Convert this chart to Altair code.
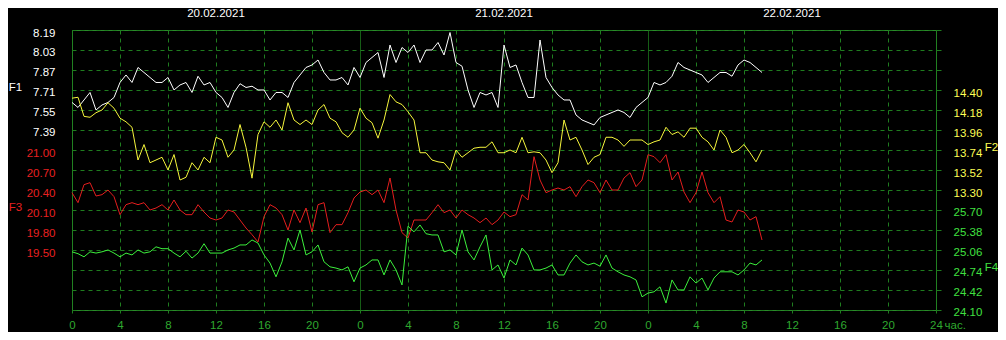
import altair as alt
import pandas as pd

# ---- data (one value every half hour from 20.02.2021 00:00) ----
step_hours = 0.5

f1 = [7.61, 7.57, 7.63, 7.69, 7.55, 7.59, 7.61, 7.65,
      7.77, 7.83, 7.77, 7.89, 7.85, 7.81, 7.77, 7.77,
      7.81, 7.71, 7.75, 7.77, 7.69, 7.82, 7.75, 7.77,
      7.69, 7.65, 7.57, 7.69, 7.76, 7.73, 7.74, 7.71,
      7.71, 7.63, 7.69, 7.69, 7.65, 7.77, 7.83, 7.89,
      7.91, 7.95, 7.85, 7.79, 7.79, 7.81, 7.75, 7.89,
      7.81, 7.93, 7.97, 8.01, 7.81, 8.07, 7.93, 8.05,
      8.01, 8.07, 7.93, 8.03, 8.03, 8.09, 7.99, 8.17,
      7.93, 7.90, 7.71, 7.57, 7.69, 7.67, 7.69, 7.57,
      8.07, 7.89, 7.91, 7.77, 7.65, 7.65, 8.11, 7.81,
      7.73, 7.67, 7.63, 7.63, 7.51, 7.47, 7.45, 7.43,
      7.49, 7.51, 7.53, 7.55, 7.53, 7.49, 7.57, 7.61,
      7.65, 7.77, 7.75, 7.77, 7.82, 7.93, 7.89, 7.87,
      7.85, 7.83, 7.77, 7.81, 7.85, 7.85, 7.82, 7.91,
      7.95, 7.93, 7.89, 7.85]

f2 = [14.31, 14.32, 14.11, 14.10, 14.15, 14.18, 14.26, 14.20,
      14.09, 14.05, 13.99, 13.63, 13.80, 13.60, 13.63, 13.66,
      13.52, 13.69, 13.41, 13.44, 13.60, 13.52, 13.66, 13.60,
      13.88, 13.85, 13.66, 13.74, 14.02, 13.77, 13.43, 13.91,
      14.05, 13.99, 14.07, 13.96, 14.26, 14.07, 14.02, 14.07,
      14.02, 14.18, 14.24, 14.09, 14.05, 13.93, 13.88, 13.96,
      14.20, 14.09, 14.04, 13.87, 14.07, 14.35, 14.27, 14.24,
      14.16, 14.07, 13.71, 13.71, 13.63, 13.61, 13.60, 13.52,
      13.74, 13.66, 13.71, 13.76, 13.77, 13.77, 13.83, 13.71,
      13.71, 13.74, 13.71, 13.88, 13.71, 13.72, 13.71, 13.63,
      13.49, 13.60, 14.07, 13.85, 13.88, 13.74, 13.58, 13.66,
      13.69, 13.88, 13.88, 13.85, 13.78, 13.85, 13.85, 13.85,
      13.80, 13.83, 13.85, 13.99, 13.91, 13.94, 13.88, 13.98,
      13.98, 13.88, 13.83, 13.74, 13.96, 13.88, 13.71, 13.74,
      13.80, 13.71, 13.61, 13.74]

f3 = [20.36, 20.21, 20.48, 20.51, 20.31, 20.33, 20.40, 20.30,
      20.03, 20.18, 20.21, 20.18, 20.21, 20.10, 20.13, 20.18,
      20.10, 20.25, 20.10, 20.03, 20.03, 20.18, 20.07, 19.98,
      19.95, 19.98, 20.10, 20.07, 19.95, 19.83, 19.73, 19.62,
      20.00, 20.18, 20.13, 20.03, 19.80, 20.10, 19.91, 20.13,
      19.77, 20.18, 20.21, 19.76, 19.88, 19.88, 20.06, 20.28,
      20.37, 20.40, 20.33, 20.40, 20.21, 20.58, 20.10, 19.76,
      19.68, 19.95, 19.95, 19.95, 20.06, 20.18, 20.06, 20.10,
      19.98, 20.10, 20.03, 19.98, 19.91, 19.98, 19.88, 19.95,
      20.07, 20.00, 20.03, 20.33, 20.25, 20.90, 20.55, 20.36,
      20.40, 20.43, 20.40, 20.45, 20.30, 20.45, 20.55, 20.51,
      20.36, 20.55, 20.40, 20.40, 20.58, 20.66, 20.45, 20.55,
      20.93, 20.90, 20.81, 20.93, 20.55, 20.67, 20.37, 20.21,
      20.36, 20.67, 20.36, 20.21, 20.30, 19.95, 19.92, 20.10,
      20.07, 19.95, 20.00, 19.65]

f4 = [25.03, 25.00, 24.95, 25.03, 25.01, 25.03, 25.06, 25.01,
      24.95, 25.01, 24.98, 25.06, 25.01, 25.03, 25.11, 25.08,
      25.08, 25.01, 24.95, 25.04, 24.93, 25.01, 25.16, 25.01,
      25.01, 25.01, 25.06, 25.09, 25.14, 25.14, 25.22, 25.17,
      24.98, 24.85, 24.63, 24.87, 25.25, 25.06, 25.38, 24.98,
      25.03, 25.14, 24.87, 24.79, 24.77, 24.74, 24.79, 24.55,
      24.77, 24.82, 24.90, 24.90, 24.66, 24.90, 24.74, 24.50,
      25.44, 25.35, 25.46, 25.32, 25.30, 25.30, 25.03, 25.06,
      24.98, 25.38, 25.03, 24.90, 25.11, 25.30, 24.74, 24.82,
      24.61, 24.90, 24.82, 25.09, 24.98, 24.74, 24.74, 24.77,
      24.82, 24.66, 24.66, 24.85, 24.98, 24.87, 24.82, 24.85,
      24.80, 24.98, 24.77, 24.71, 24.66, 24.63, 24.58, 24.31,
      24.37, 24.39, 24.47, 24.21, 24.58, 24.42, 24.42, 24.63,
      24.53, 24.61, 24.42, 24.61, 24.71, 24.71, 24.71, 24.66,
      24.74, 24.85, 24.82, 24.90]

dates = ["20.02.2021", "21.02.2021", "22.02.2021"]
date_mid_hours = [12, 36, 60]

f1_ticks = [8.19, 8.03, 7.87, 7.71, 7.55, 7.39]
f2_ticks = [14.40, 14.18, 13.96, 13.74, 13.52, 13.30]
f3_ticks = [21.00, 20.70, 20.40, 20.10, 19.80, 19.50]
f4_ticks = [25.70, 25.38, 25.06, 24.74, 24.42, 24.10]

# scale domains (each series has its own vertical scale over the 14 grid rows)
f1_domain = [5.949, 8.19]
f2_domain = [11.98, 15.06]
f3_domain = [18.60, 22.80]
f4_domain = [24.099, 28.58]
grid_rows = [round(8.19 - 0.16 * k, 2) for k in range(15)]

hours = [i * step_hours for i in range(len(f1))]
df = pd.DataFrame({"t": hours, "f1": f1, "f2": f2, "f3": f3, "f4": f4})
dates_df = pd.DataFrame({"t": date_mid_hours, "d": dates})

# ---- style ----
FONT = "Liberation Sans"
FS = 11.5
GRID = "#1f7d1f"
BORDER = "#2a8a2a"
XLAB = "#2fa82f"
C1, C2, C3, C4 = "#ffffff", "#f5f53c", "#e41e1e", "#3cf03c"
L2, L3, L4 = "#ffff55", "#e82020", "#40e040"
W, H = 864, 280

x_enc = alt.X(
    "t:Q",
    scale=alt.Scale(domain=[0, 72], nice=False, zero=False),
    axis=alt.Axis(
        values=list(range(0, 73, 2)),
        labelExpr="datum.value == 72 ? '24' : '' + (datum.value % 24)",
        grid=True, gridColor=GRID, gridOpacity=1, gridWidth=1,
        gridDash={"condition": {"test": "datum.value % 24 == 0", "value": [1, 0]}, "value": [4, 4]},
        domain=False, ticks=True, tickSize=3, tickColor=GRID, tickWidth=1,
        labelColor=XLAB, labelFont=FONT, labelFontSize=FS, labelPadding=6,
        labelOverlap=False, labelFlush=False,
        title="час.", titleColor=XLAB, titleFont=FONT, titleFontSize=FS,
        titleFontWeight="normal", titleX=872, titleY=15, titleAlign="left",
        titleBaseline="middle", titleAnchor="start",
    ),
)


def y_axis(orient, vals, color, title, tx, ty, grid=False):
    kw = dict(
        orient=orient, values=vals, format=".2f", domain=False, ticks=False,
        labelColor=color, labelFont=FONT, labelFontSize=FS, labelPadding=17,
        labelOffset=3, labelOverlap=False, labelFlush=False,
        title=title, titleColor=color, titleFont=FONT, titleFontSize=FS,
        titleFontWeight="normal", titleAngle=0, titleX=tx, titleY=ty,
        titleAlign="center", titleBaseline="middle", grid=grid,
    )
    if grid:
        kw.update(gridColor=GRID, gridDash=[4, 4], gridOpacity=1, gridWidth=1,
                  labelExpr="datum.value > 7.3 ? format(datum.value, '.2f') : ''")
    return alt.Axis(**kw)


base = alt.Chart(df)

l1 = base.mark_line(color=C1, strokeWidth=1).encode(
    x=x_enc,
    y=alt.Y("f1:Q", scale=alt.Scale(domain=f1_domain, nice=False, zero=False),
            axis=y_axis("left", grid_rows, C1, "F1", -57, 57, grid=True)),
)
# short grid-row stubs beyond the right border (same scale as F1, no line drawn)
l1_right = base.mark_line(opacity=0).encode(
    x=x_enc,
    y=alt.Y("f1:Q", scale=alt.Scale(domain=f1_domain, nice=False, zero=False),
            axis=alt.Axis(orient="right", values=grid_rows, labels=False, domain=False,
                          ticks=True, tickSize=5, tickColor=GRID, tickWidth=1,
                          grid=False, title=None)),
)
l3 = base.mark_line(color=C3, strokeWidth=1).encode(
    x=x_enc,
    y=alt.Y("f3:Q", scale=alt.Scale(domain=f3_domain, nice=False, zero=False),
            axis=y_axis("left", f3_ticks, L3, "F3", -57, 177)),
)
l2 = base.mark_line(color=C2, strokeWidth=1).encode(
    x=x_enc,
    y=alt.Y("f2:Q", scale=alt.Scale(domain=f2_domain, nice=False, zero=False),
            axis=y_axis("right", f2_ticks, L2, "F2", 55, 117)),
)
l4 = base.mark_line(color=C4, strokeWidth=1).encode(
    x=x_enc,
    y=alt.Y("f4:Q", scale=alt.Scale(domain=f4_domain, nice=False, zero=False),
            axis=y_axis("right", f4_ticks, L4, "F4", 55, 237)),
)

date_text = alt.Chart(dates_df).mark_text(
    color="#ffffff", font=FONT, fontSize=FS, baseline="middle", align="center"
).encode(x=alt.X("t:Q"), y=alt.value(-16), text="d:N")

chart = (
    alt.layer(l1, l1_right, l3, l2, l4, date_text)
    .resolve_scale(y="independent")
    .properties(
        width=W, height=H,
        background="#000000",
        autosize=alt.AutoSizeParams(type="none"),
        padding={"left": 64, "top": 22, "right": 62, "bottom": 22},
    )
    .configure_view(stroke=BORDER, strokeWidth=1, fill="#000000")
)

chart.save("out.html", embed_options={"renderer": "svg", "actions": False})
